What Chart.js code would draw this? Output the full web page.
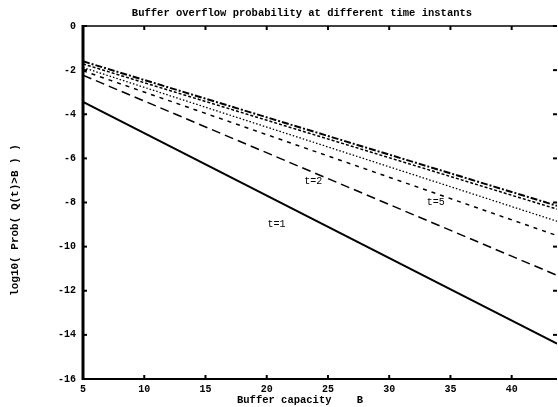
<!DOCTYPE html>
<html>
<head>
<meta charset="utf-8">
<script src="https://cdn.jsdelivr.net/npm/chart.js@4/dist/chart.umd.min.js"></script>
<style>
  html, body { margin: 0; padding: 0; background: #fff; }
  #wrap { width: 558px; height: 407px; }
</style>
</head>
<body>
<div id="wrap"><canvas id="bufChart"></canvas></div>
<script>
// values (log10 probability at the ends of each line)
const bufferB = [5, 43.7];
const curveTop = [-1.6, -8.15];
const curveTop2 = [-1.72, -8.3];
const curveDotted = [-1.88, -8.85];
const curveT5 = [-2.03, -9.5];
const curveT2 = [-2.23, -11.3];
const curveT1 = [-3.44, -14.4];

const xTicks = [5, 10, 15, 20, 25, 30, 35, 40];
const yTicks = [0, -2, -4, -6, -8, -10, -12, -14, -16];

// curve labels: [text, B, log10 prob]
const curveLabels = [
  ["t=1", 20.8, -9.0],
  ["t=2", 23.8, -7.05],
  ["t=5", 33.8, -8.0],
];

const monoFam = "'Liberation Mono', 'DejaVu Sans Mono', monospace";

const toPts = (ys) => bufferB.map((b, i) => ({ x: b, y: ys[i] }));

const mkSet = (ys, dash, width) => ({
  data: toPts(ys),
  borderColor: "#000",
  borderWidth: width,
  borderDash: dash,
  pointRadius: 0,
  fill: false,
  tension: 0,
});

// frame, inward ticks and texts
const framePlugin = {
  id: "frame",
  afterDraw(chart) {
    const { ctx, chartArea: a, scales } = chart;
    ctx.save();
    ctx.strokeStyle = "#000";
    ctx.lineCap = "butt";

    // borders
    ctx.lineWidth = 3;
    ctx.beginPath(); ctx.moveTo(a.left, a.top - 1); ctx.lineTo(a.left, a.bottom + 1); ctx.stroke();
    ctx.lineWidth = 2;
    ctx.beginPath(); ctx.moveTo(a.left, a.bottom); ctx.lineTo(a.right, a.bottom); ctx.stroke();
    ctx.lineWidth = 1.5;
    ctx.beginPath(); ctx.moveTo(a.left, a.top); ctx.lineTo(a.right, a.top); ctx.stroke();

    // inward tick marks
    ctx.lineWidth = 2;
    xTicks.forEach((v) => {
      const px = scales.x.getPixelForValue(v);
      ctx.beginPath(); ctx.moveTo(px, a.bottom); ctx.lineTo(px, a.bottom - 4); ctx.stroke();
      ctx.beginPath(); ctx.moveTo(px, a.top); ctx.lineTo(px, a.top + 4); ctx.stroke();
    });
    yTicks.forEach((v) => {
      const py = scales.y.getPixelForValue(v);
      ctx.beginPath(); ctx.moveTo(a.left, py); ctx.lineTo(a.left + 4, py); ctx.stroke();
      ctx.beginPath(); ctx.moveTo(a.right, py); ctx.lineTo(a.right - 4, py); ctx.stroke();
    });

    ctx.fillStyle = "#000";
    ctx.textBaseline = "middle";
    ctx.textAlign = "center";

    // curve labels
    ctx.font = "10px " + monoFam;
    curveLabels.forEach(([txt, b, v]) => {
      ctx.fillText(txt, scales.x.getPixelForValue(b), scales.y.getPixelForValue(v));
    });

    ctx.font = "bold 10.5px " + monoFam;
    ctx.fillText("Buffer overflow probability at different time instants", 302, 13);
    ctx.font = "bold 10.5px " + monoFam;
    ctx.fillText("Buffer capacity    B", 300, 400);

    ctx.font = "bold 11px " + monoFam;
    ctx.translate(15, 220);
    ctx.rotate(-Math.PI / 2);
    ctx.fillText("log10( Prob( Q(t)>B ) )", 0, 0);
    ctx.restore();
  },
};

const ctx = document.getElementById("bufChart").getContext("2d");
new Chart(ctx, {
  type: "line",
  data: {
    datasets: [
      mkSet(curveTop, [7, 2, 2, 2], 2),
      mkSet(curveTop2, [3, 2], 1.5),
      mkSet(curveDotted, [1.5, 2], 1.3),
      mkSet(curveT5, [4, 5], 1.5),
      mkSet(curveT2, [9, 5], 1.5),
      mkSet(curveT1, [], 2),
    ],
  },
  options: {
    responsive: true,
    maintainAspectRatio: false,
    animation: false,
    layout: { padding: { top: 26, right: 1, left: 0, bottom: 0 } },
    plugins: {
      legend: { display: false },
      title: { display: false },
      tooltip: { enabled: false },
    },
    scales: {
      x: {
        type: "linear",
        min: 5,
        max: 43.7,
        afterBuildTicks: (s) => { s.ticks = xTicks.map((v) => ({ value: v })); },
        afterFit: (s) => { s.height = 28; },
        grid: { display: false, drawTicks: false },
        border: { display: false },
        ticks: { color: "#000", padding: 4, maxRotation: 0, font: { family: monoFam, size: 10, weight: "bold" } },
      },
      y: {
        min: -16,
        max: 0,
        afterBuildTicks: (s) => { s.ticks = yTicks.map((v) => ({ value: v })); },
        afterFit: (s) => { s.width = 83; },
        grid: { display: false, drawTicks: false },
        border: { display: false },
        ticks: { color: "#000", padding: 7, font: { family: monoFam, size: 10, weight: "bold" } },
      },
    },
  },
  plugins: [framePlugin],
});
</script>
</body>
</html>
